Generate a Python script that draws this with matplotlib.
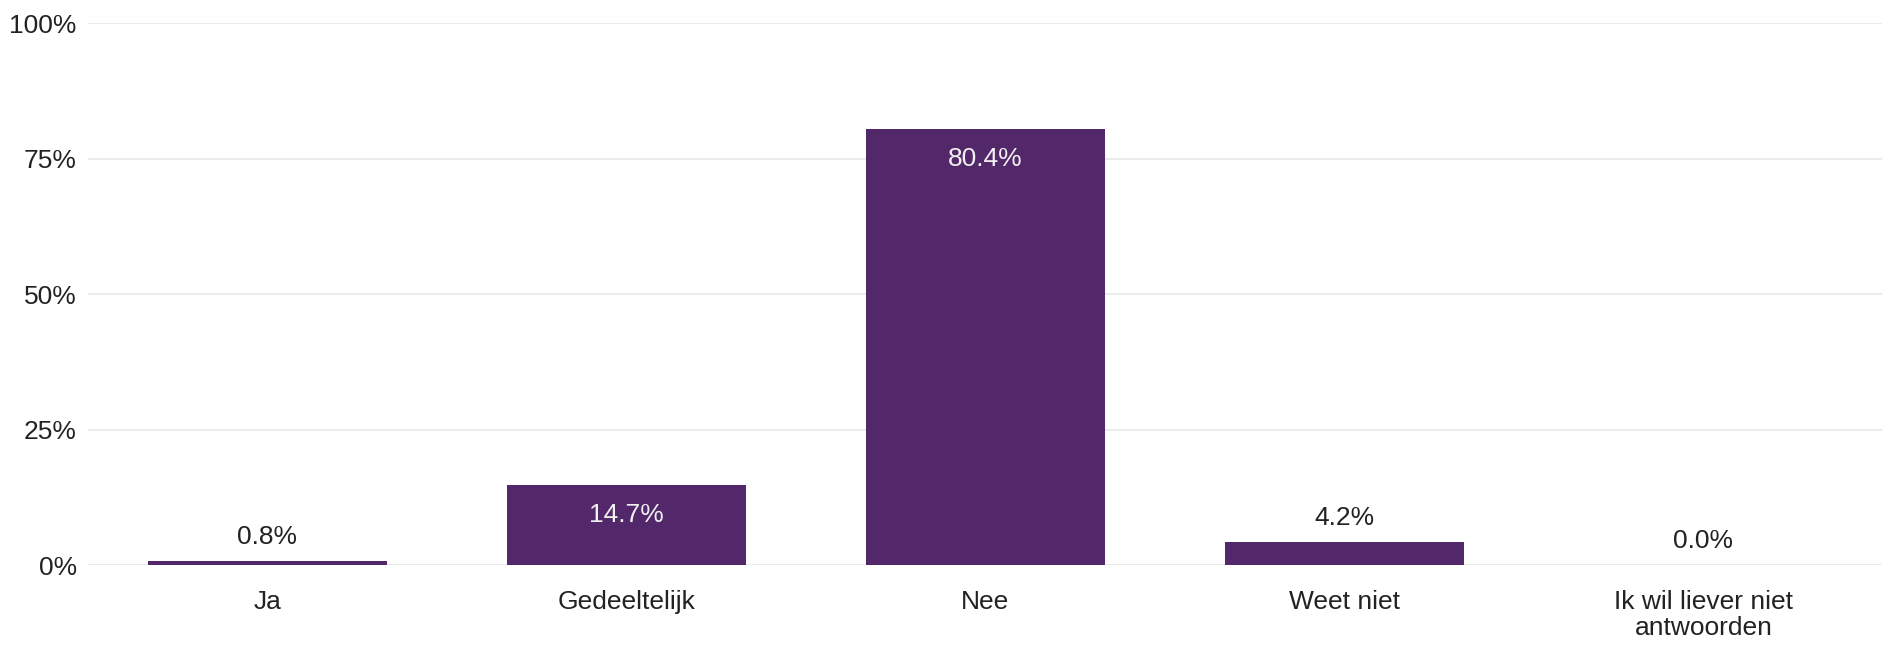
import matplotlib.pyplot as plt
from matplotlib.ticker import FuncFormatter

plt.rcParams['font.family'] = ['Liberation Sans', 'DejaVu Sans']

# survey answers and their share in percent
categories = ['Ja', 'Gedeeltelijk', 'Nee', 'Weet niet', 'Ik wil liever niet\nantwoorden']
shares = [0.8, 14.7, 80.4, 4.2, 0.0]
y_ticks = [0, 25, 50, 75, 100]

bar_color = '#52286a'
text_color = '#222222'
grid_color = '#e8e8e8'
fsize = 19

fig = plt.figure(figsize=(18.83, 6.48), dpi=100)
ax = fig.add_axes([0.0467, 0.128, 0.9533, 0.8365])

x = range(len(categories))
bars = ax.bar(x, shares, width=0.665, color=bar_color, zorder=2)

ax.set_xlim(-0.5, len(categories) - 0.5)
ax.set_ylim(0, 100)
ax.set_yticks(y_ticks)
ax.yaxis.set_major_formatter(FuncFormatter(lambda v, _: f'{v:.0f}%'))
ax.set_xticks(list(x))
ax.set_xticklabels(categories, linespacing=1.1)

ax.grid(axis='y', color=grid_color, linewidth=1.2, zorder=0)
ax.tick_params(axis='both', length=0, labelsize=fsize, colors=text_color)
ax.tick_params(axis='y', pad=8)
ax.tick_params(axis='x', pad=18)
for side in ax.spines.values():
    side.set_visible(False)

# value labels: inside the bar when it is tall enough, otherwise above it
for rect, val in zip(bars, shares):
    cx = rect.get_x() + rect.get_width() / 2
    if val > 10:
        ax.annotate(f'{val:.1f}%', (cx, val), xytext=(0, -30), textcoords='offset pixels',
                    ha='center', va='center', fontsize=fsize, color='#f0f0f0', zorder=3)
    else:
        ax.annotate(f'{val:.1f}%', (cx, val), xytext=(0, 24), textcoords='offset pixels',
                    ha='center', va='center', fontsize=fsize, color=text_color, zorder=3)

fig.savefig('out.png', dpi=100)
